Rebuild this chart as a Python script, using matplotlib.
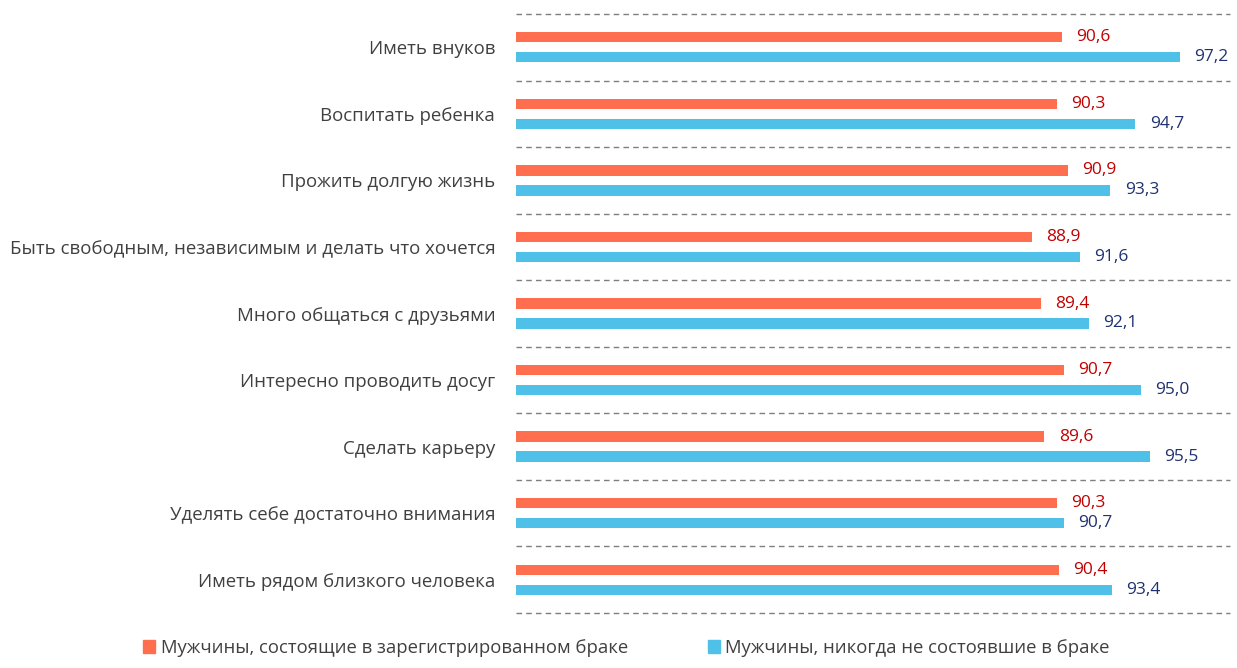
import matplotlib.pyplot as plt
from matplotlib.patches import Patch
import numpy as np

plt.rcParams['font.family'] = ['Open Sans', 'DejaVu Sans']

# data
categories = ['Иметь внуков', 'Воспитать ребенка', 'Прожить долгую жизнь',
              'Быть свободным, независимым и делать что хочется',
              'Много общаться с друзьями', 'Интересно проводить досуг',
              'Сделать карьеру', 'Уделять себе достаточно внимания',
              'Иметь рядом близкого человека']
married = [90.6, 90.3, 90.9, 88.9, 89.4, 90.7, 89.6, 90.3, 90.4]
never_married = [97.2, 94.7, 93.3, 91.6, 92.1, 95.0, 95.5, 90.7, 93.4]
series_names = ['Мужчины, состоящие в зарегистрированном браке',
                'Мужчины, никогда не состоявшие в браке']

red = '#FF6F4F'
blue = '#4FC1E8'
red_txt = '#C00000'
blue_txt = '#1F3170'
gray = '#404040'

fig = plt.figure(figsize=(12.37, 6.68), dpi=100)
ax = fig.add_axes([516/1237, 1-613/668, (1230-516)/1237, (613-14)/668])

y = np.arange(len(categories))
h = 0.155
off = 0.15
ax.barh(y - off, np.array(married) - 60, left=60, height=h, color=red)
ax.barh(y + off, np.array(never_married) - 60, left=60, height=h, color=blue)

for i in range(len(categories)):
    ax.text(married[i] + 0.8, y[i] - off, f'{married[i]:.1f}'.replace('.', ','),
            va='center', ha='left', fontsize=12.5, color=red_txt)
    ax.text(never_married[i] + 0.8, y[i] + off, f'{never_married[i]:.1f}'.replace('.', ','),
            va='center', ha='left', fontsize=12.5, color=blue_txt)

ax.set_xlim(60, 100)
ax.set_ylim(len(categories) - 0.5, -0.5)
ax.set_yticks(y)
ax.set_yticklabels(categories, fontsize=13.4, color=gray)
ax.tick_params(axis='y', length=0, pad=15)
ax.set_xticks([])
for b in np.arange(-0.5, len(categories)):
    ax.axhline(b, color='#7f7f7f', linestyle=(0, (4, 3)), linewidth=1, clip_on=False)
for s in ax.spines.values():
    s.set_visible(False)

handles = [Patch(color=red), Patch(color=blue)]
fig.legend(handles, series_names, loc='center', bbox_to_anchor=(0.5065, 1-648/668),
           ncol=2, frameon=False, fontsize=13.3, handlelength=0.65, handleheight=0.65,
           handletextpad=0.3, columnspacing=4.3, labelcolor=gray)

fig.savefig('out.png', dpi=100)
